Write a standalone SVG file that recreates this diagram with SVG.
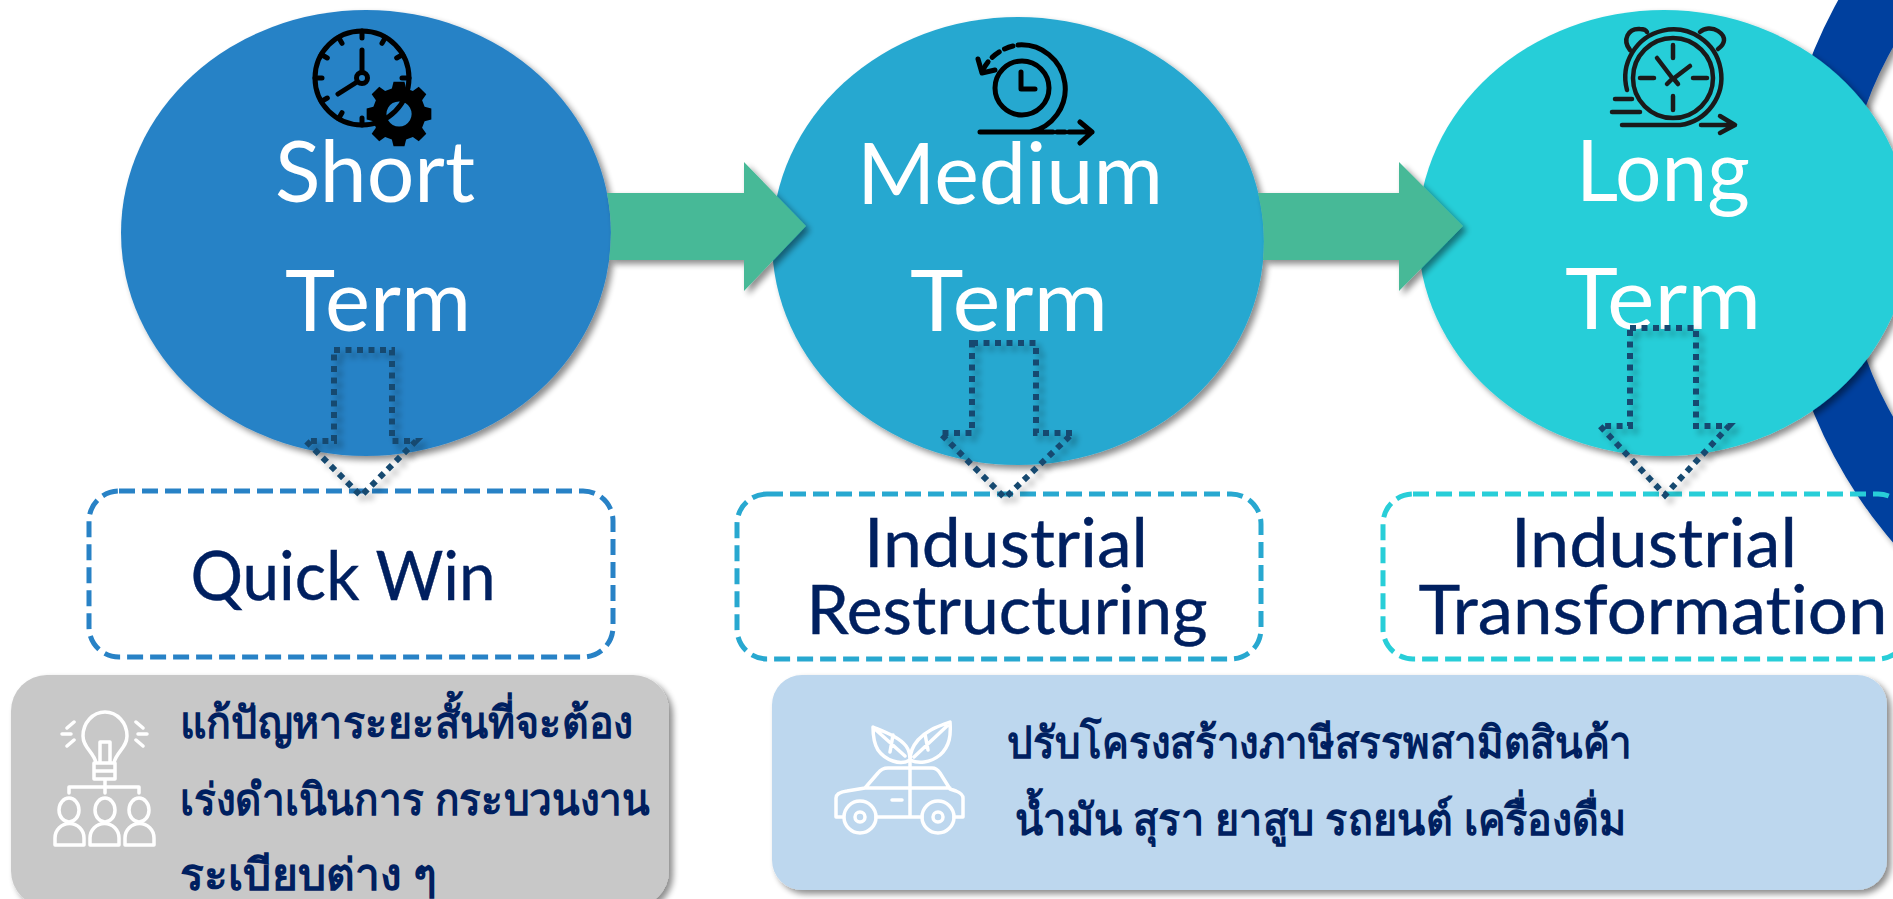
<svg xmlns="http://www.w3.org/2000/svg" width="1893" height="899" viewBox="0 0 1893 899">
<defs>
<filter id="sh" x="-20%" y="-20%" width="140%" height="140%"><feGaussianBlur in="SourceAlpha" stdDeviation="3"/><feOffset dx="4" dy="4"/><feComponentTransfer><feFuncA type="linear" slope="0.45"/></feComponentTransfer><feMerge><feMergeNode/><feMergeNode in="SourceGraphic"/></feMerge></filter>
<filter id="sd" x="-30%" y="-30%" width="160%" height="160%"><feGaussianBlur in="SourceAlpha" stdDeviation="3"/><feOffset dx="5" dy="5"/><feComponentTransfer><feFuncA type="linear" slope="0.3"/></feComponentTransfer><feMerge><feMergeNode/><feMergeNode in="SourceGraphic"/></feMerge></filter>
</defs>
<style>
.lat{font-family:Lato,"Noto Sans",sans-serif;text-anchor:middle;font-variant-ligatures:none}
.big{font-size:85px;fill:#fff}
.mid{font-size:68px;fill:#002060;stroke:#002060;stroke-width:.4}
.th{font-family:"Noto Sans","DejaVu Sans",sans-serif;font-weight:700;font-size:44px;fill:#002060}
.dot{fill:none;stroke:#174A70;stroke-width:6;stroke-dasharray:6 5.500}
.dash{fill:none;stroke-width:5;stroke-dasharray:16 7}
.ink{fill:none;stroke:#000;stroke-width:5;stroke-linecap:round;stroke-linejoin:round}
.ink3{fill:none;stroke:#1a1a1a;stroke-width:4.500;stroke-linecap:round;stroke-linejoin:round}
.wh{fill:none;stroke:#fff;stroke-width:3.500;stroke-linecap:round;stroke-linejoin:round}
</style>
<rect width="1893" height="899" fill="#fff"/>
<path id="ring" filter="url(#sh)" fill="#00409E" fill-rule="evenodd" d="M1778,232a477,477 0 1,0 954,0a477,477 0 1,0 -954,0zM1844,232a373,373 0 1,0 746,0a373,373 0 1,0 -746,0z"/>
<g id="node-long">
<ellipse cx="1664" cy="233" rx="246" ry="223" fill="#28CED8" filter="url(#sh)"/>
<g id="icon-long">
<circle class="ink3" cx="1673" cy="78" r="40"/>
<path class="ink3" d="M1627,90A48,48 0 1,1 1680,125H1622M1630,50C1622,40 1628,28 1640,29C1643,29 1646,30 1647,32M1700,32C1704,28 1712,27 1718,31C1727,37 1725,44 1718,49M1673,45V58M1673,96V110M1640,78H1654M1693,78H1707M1657,58L1673,79L1690,66M1667,84L1673,78L1678,84M1615,99H1632M1612,112H1640M1701,125H1733M1720,116L1735,125L1720,133"/>
</g>
<text class="lat big" x="1663" y="201" textLength="174" lengthAdjust="spacingAndGlyphs">Long</text>
<text class="lat big" x="1663" y="329" textLength="196" lengthAdjust="spacingAndGlyphs">Term</text>
</g>
<g id="node-medium">
<ellipse cx="1018" cy="241" rx="246" ry="224" fill="#28A8D0" filter="url(#sh)"/>
<g id="icon-medium">
<circle class="ink" cx="1022" cy="88" r="27"/>
<path class="ink" d="M1021,72V89H1035M1018,45A44,44 0 0,1 1030,132M980,132H1053M1057,132H1065M1069,132H1092M1080,122L1092,132L1080,143M978,59L982,73L995,70"/>
<path class="ink" d="M1013,46A45,45 0 0,0 982,72" stroke-dasharray="9 6"/>
</g>
<text class="lat big" x="1010" y="204" textLength="306" lengthAdjust="spacingAndGlyphs">Medium</text>
<text class="lat big" x="1009" y="331" textLength="198" lengthAdjust="spacingAndGlyphs">Term</text>
</g>
<g id="node-short">
<ellipse cx="366" cy="233" rx="245" ry="223" fill="#2882C6" filter="url(#sh)"/>
<g id="icon-short">
<circle class="ink" cx="362" cy="78" r="47"/>
<path class="ink" d="M362,31v7M362,118v7M315,78h7M402,78h7M338.500,37.300l3.500,6M385.500,37.300l-3.500,6M321.300,54.500l6,3.500M402.700,54.500l-6,3.500M321.300,101.500l6,-3.500M338.500,118.700l3.500,-6"/>
<circle class="ink" cx="362" cy="78" r="5.500"/>
<path class="ink" d="M362,72V50M357,82l-19,12"/>
<path transform="translate(399 114) scale(.84) translate(-396.500 -122.500)" fill="#000" fill-rule="evenodd" d="M390,84h13l2,8l8,3l7,-5l9,9l-5,7l3,8l8,2v13l-8,2l-3,8l5,7l-9,9l-7,-5l-8,3l-2,8h-13l-2,-8l-8,-3l-7,5l-9,-9l5,-7l-3,-8l-8,-2v-13l8,-2l3,-8l-5,-7l9,-9l7,5l8,-3zM396.500,107.500a15,15 0 1,0 0.100,0z"/>
</g>
<text class="lat big" x="375" y="202" textLength="200" lengthAdjust="spacingAndGlyphs">Short</text>
<text class="lat big" x="378" y="331" textLength="186" lengthAdjust="spacingAndGlyphs">Term</text>
</g>
<g id="connectors">
<path filter="url(#sh)" fill="#46B997" d="M607,193H744V162L806,226L744,291V260H609A245,223 0 0,0 607,193Z"/>
<path filter="url(#sh)" fill="#46B997" d="M1258,193H1399V162L1463,226L1399,291V260H1263A246,224 0 0,0 1258,193Z"/>
</g>
<g id="box-quickwin">
<rect class="dash" x="89" y="491" width="524" height="166" rx="30" stroke="#2882C6"/>
<text class="lat mid" x="343" y="600" textLength="305" lengthAdjust="spacingAndGlyphs">Quick Win</text>
</g>
<g id="box-restructuring">
<rect class="dash" x="737" y="494" width="524" height="165" rx="30" stroke="#28A8D0"/>
<text class="lat mid" x="1006" y="567" textLength="284" lengthAdjust="spacingAndGlyphs">Industrial</text>
<text class="lat mid" x="1007" y="634" textLength="401" lengthAdjust="spacingAndGlyphs">Restructuring</text>
</g>
<g id="box-transformation">
<rect class="dash" x="1383" y="494" width="525" height="165" rx="30" stroke="#28CED8"/>
<text class="lat mid" x="1654" y="567" textLength="286" lengthAdjust="spacingAndGlyphs">Industrial</text>
<text class="lat mid" x="1653" y="634" textLength="469" lengthAdjust="spacingAndGlyphs">Transformation</text>
</g>
<g id="down-arrows">
<path class="dot" filter="url(#sd)" d="M334,350H392V441H416L361,496L306,441H334Z"/>
<path class="dot" filter="url(#sd)" d="M972,343H1036V433H1073L1005,498L940,433H972Z"/>
<path class="dot" filter="url(#sd)" d="M1630,328H1696V426H1729L1665,495L1600,426H1630Z"/>
</g>
<g id="note-short">
<rect x="11" y="675" width="658" height="232" rx="36" fill="#C8C8C8" filter="url(#sh)"/>
<g class="wh">
<path class="wh" d="M96,763C94,752 83,748 83,736A22,24 0 1,1 127,736C127,748 116,752 114,763ZM94,763H115V779H94ZM94,771H115M105,779V793M69,793V787H139V793M100,762V742H110V762M62,734H71M67,728L74,722M67,746L74,740M138,734H147M143,728L136,722M143,746L136,740"/>
<ellipse class="wh" cx="69" cy="810" rx="10" ry="12"/>
<ellipse class="wh" cx="105" cy="810" rx="10" ry="12"/>
<ellipse class="wh" cx="139" cy="810" rx="10" ry="12"/>
<path class="wh" d="M55,845V838A14,14 0 0,1 84,838V845ZM90,845V838A14,14 0 0,1 119,838V845ZM125,845V838A14,14 0 0,1 154,838V845Z"/>
</g>
<text class="th" x="180" y="738" textLength="453" lengthAdjust="spacingAndGlyphs">แก้ปัญหาระยะสั้นที่จะต้อง</text>
<text class="th" x="180" y="815" textLength="470" lengthAdjust="spacingAndGlyphs">เร่งดำเนินการ กระบวนงาน</text>
<text class="th" x="180" y="890" textLength="257" lengthAdjust="spacingAndGlyphs">ระเบียบต่าง ๆ</text>
</g>
<g id="note-medium">
<rect x="772" y="675" width="1115" height="215" rx="30" fill="#BDD7EE" filter="url(#sh)"/>
<g class="wh">
<path class="wh" d="M843,817H836V798C836,794 840,792 847,791L865,788L878,773C881,769 884,768 888,768H932C936,768 938,770 940,773L950,789L956,791C961,793 963,795 963,798V817H954M922,817H876M865,788H950M910,760V817M892,800H902"/>
<circle class="wh" cx="860" cy="817" r="16"/>
<circle class="wh" cx="860" cy="817" r="5"/>
<circle class="wh" cx="938" cy="817" r="16"/>
<circle class="wh" cx="938" cy="817" r="5"/>
<path class="wh" d="M910,760C900,766 885,760 878,750C873,742 873,733 873,727C885,732 899,737 906,746C909,750 910,755 910,760C910,754 912,747 918,740C928,729 940,726 950,722C951,735 950,746 940,755C930,763 918,764 910,760M876,730L905,756M893,735L890,752M947,726L914,757M925,734L928,750"/>
</g>
<text class="th" x="1007" y="758" textLength="625" lengthAdjust="spacingAndGlyphs">ปรับโครงสร้างภาษีสรรพสามิตสินค้า</text>
<text class="th" x="1015" y="835" textLength="611" lengthAdjust="spacingAndGlyphs">น้ำมัน สุรา ยาสูบ รถยนต์ เครื่องดื่ม</text>
</g>
</svg>
